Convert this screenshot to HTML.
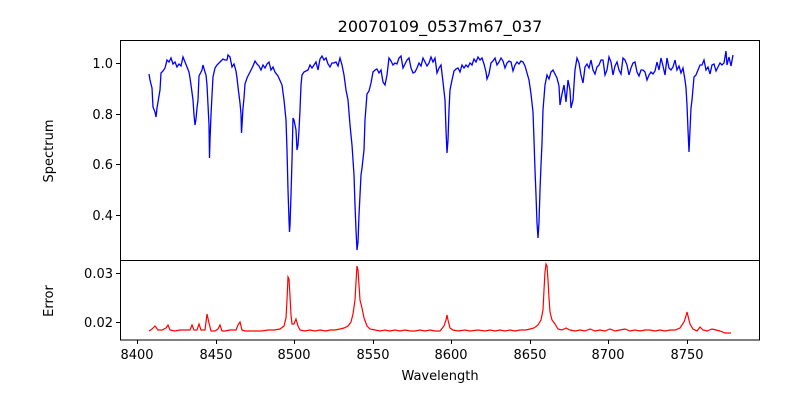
<!DOCTYPE html><html><head><style>body{margin:0;background:#fff}text{font-family:"DejaVu Sans","Liberation Sans",sans-serif;fill:#000}</style></head><body>
<svg width="800" height="400" viewBox="0 0 800 400" xmlns="http://www.w3.org/2000/svg">
<rect width="800" height="400" fill="#fff"/>
<text x="440" y="32" font-size="16" text-anchor="middle">20070109_0537m67_037</text>
<polyline fill="none" stroke="#00f" stroke-width="1.3" points="149,74 150,80 152,88 153,107 155,112 156,117 157,108 158,102 160,90 161,73 163,71 165,68 167,60 169,62 171,58 173,64 175,62 177,67 179,64 181,66 183,57 185,62 187,67 189,72 190,78 191,85 193,100 194,115 195,125 196,119 197,108 198,100 199,76 201,72 202,70 203,65 205,72 206,75 207,85 208,105 209,125 209.5,158 210,140 211,115 212,95 213,77 215,68 217,65 219,63 221,61 223,59 225,60 227,60 228,55 230,57 232,67 234,64 236,71 237,78 238,87 239,95 240,103 241,114 241.5,133 242,125 243,108 244,98 245,84 247,78 249,74 251,70 253,66 255,61 257,64 259,66 261,70 263,65 265,68 267,64 269,62 271,70 273,67 275,72 278,76 282,85 284,100 286,120 287,150 288,190 289,220 289.5,232 290,225 291,195 292,160 293,118 294,120 295,125 296,130 297,150 298,145 299,130 300,110 301,85 302,75 304,72 306,71 308,70 310,65 312,68 314,65 316,62 318,70 320,59 322,56 324,60 326,58 328,64 330,67 332,63 334,63 336,62 338,66 340,58 342,65 344,75 346,90 348,100 350,125 352,145 354,175 355,205 356,230 357,250 358,242 359,215 361,175 362,168 364,150 365,120 367,94 369,91 371,83 373,72 375,70 377,69 379,73 381,70 383,82 385,85 387,75 389,58 391,61 393,65 395,63 397,64 399,58 401,56 403,68 405,64 407,60 409,58 411,68 413,73 415,72 417,68 419,63 421,66 423,58 425,62 427,66 429,63 431,57 433,62 435,58 437,73 439,68 441,65 443,82 445,100 446,130 447,153 448,140 449,110 450,90 452,80 454,71 456,69 458,68 460,72 462,65 464,68 466,65 468,67 470,63 472,65 474,59 476,62 478,57 480,60 482,58 484,64 486,72 487,79 489,74 491,63 493,61 495,58 497,65 499,62 501,58 503,61 505,68 507,63 509,61 511,62 513,71 515,65 517,62 519,64 521,61 523,62 525,66 527,73 529,80 531,94 533,112 534,140 535,170 536,195 537,223 538,238 539,222 540,190 541,165 542,143 543,110 545,85 547,75 549,79 551,72 553,70 555,74 557,78 559,86 560,105 562,94 564,85 566,102 568,80 570,90 571,108 573,100 575,70 577,58 579,63 581,75 583,83 585,67 587,64 589,68 591,60 593,70 595,74 597,67 599,65 601,60 603,60 605,75 607,70 609,57 611,62 613,75 615,66 617,62 619,70 621,74 623,58 625,60 627,65 629,75 631,68 633,63 635,62 637,72 639,76 641,70 643,70 645,72 647,80 649,75 651,72 653,74 655,71 657,62 659,70 661,58 663,66 665,75 667,58 669,68 671,70 673,67 675,60 677,70 679,66 681,73 683,68 685,80 686,88 687,105 688,130 689,152 690,130 691,108 692,100 694,77 696,75 698,70 700,65 702,65 704,60 706,70 708,67 710,74 712,65 714,64 716,71 718,67 720,63 722,65 724,63 726,51 727,65 729,57 731,66 733,55"/>
<polyline fill="none" stroke="#f00" stroke-width="1.2" points="149,331 152,329 155,326 158,330 162,330 166,328 168,325 170,330 175,331 180,330 185,330 190,330 192,325 194,330 197,330 199,324 201,330 205,330 207,314 209,323 211,331 215,331 218,329 220,325 222,331 225,331 230,330 236,330 238,325 240,322 242,330 245,331 250,331 256,331 262,331 268,330 274,330 280,329 284,326 286,318 287,300 288,277 289,279 290,296 291,315 292,324 294,324 296,319 298,326 300,330 305,331 310,330 315,331 320,330 326,331 330,330 335,330 340,329 344,328 348,326 351,322 353,314 355,300 356,282 357,266 358,270 359,285 360,300 362,308 364,318 367,326 370,329 375,330 380,331 385,330 390,331 395,330 400,331 405,330 410,331 415,331 420,330 425,331 430,330 435,331 440,331 444,326 446,320 447,315 448,320 450,328 453,330 458,331 465,330 470,331 478,330 485,331 490,330 495,331 500,330 505,331 510,330 515,331 520,330 526,330 530,329 534,328 538,325 541,320 543,310 544,290 545,272 546,264 547,266 548,280 549,298 550,312 552,320 555,324 558,329 562,330 566,328 570,330 575,331 580,330 585,331 590,329 595,331 600,330 605,331 610,329 615,331 620,330 625,329 630,331 635,330 640,331 645,330 650,330 655,331 660,330 665,331 670,330 675,330 680,328 684,322 686,316 687,312 688,316 690,324 693,329 697,331 700,327 703,330 707,331 712,329 716,330 720,331 725,333 731,333"/>
<rect x="120.5" y="40.5" width="639" height="220" fill="none" stroke="#000" stroke-width="1"/>
<rect x="120.5" y="260.5" width="639" height="79.5" fill="none" stroke="#000" stroke-width="1"/>
<g stroke="#000" stroke-width="1">
<line x1="116" y1="63.5" x2="120" y2="63.5"/><line x1="116" y1="114.5" x2="120" y2="114.5"/><line x1="116" y1="164.5" x2="120" y2="164.5"/><line x1="116" y1="215.5" x2="120" y2="215.5"/>
<line x1="116" y1="273.5" x2="120" y2="273.5"/><line x1="116" y1="322.5" x2="120" y2="322.5"/>
<line x1="137.5" y1="340" x2="137.5" y2="344"/><line x1="216.5" y1="340" x2="216.5" y2="344"/><line x1="294.5" y1="340" x2="294.5" y2="344"/><line x1="373.5" y1="340" x2="373.5" y2="344"/><line x1="451.5" y1="340" x2="451.5" y2="344"/><line x1="530.5" y1="340" x2="530.5" y2="344"/><line x1="608.5" y1="340" x2="608.5" y2="344"/><line x1="687.5" y1="340" x2="687.5" y2="344"/>
</g>
<g font-size="13" text-anchor="end">
<text x="113" y="68">1.0</text><text x="113" y="119">0.8</text><text x="113" y="169">0.6</text><text x="113" y="220">0.4</text>
<text x="113" y="278">0.03</text><text x="113" y="327">0.02</text>
</g>
<g font-size="13" text-anchor="middle">
<text x="137" y="359">8400</text><text x="216" y="359">8450</text><text x="294" y="359">8500</text><text x="373" y="359">8550</text><text x="451" y="359">8600</text><text x="530" y="359">8650</text><text x="608" y="359">8700</text><text x="687" y="359">8750</text>
<text x="440" y="380">Wavelength</text>
<text transform="translate(53,151) rotate(-90)">Spectrum</text>
<text transform="translate(53,301) rotate(-90)">Error</text>
</g>
</svg></body></html>
